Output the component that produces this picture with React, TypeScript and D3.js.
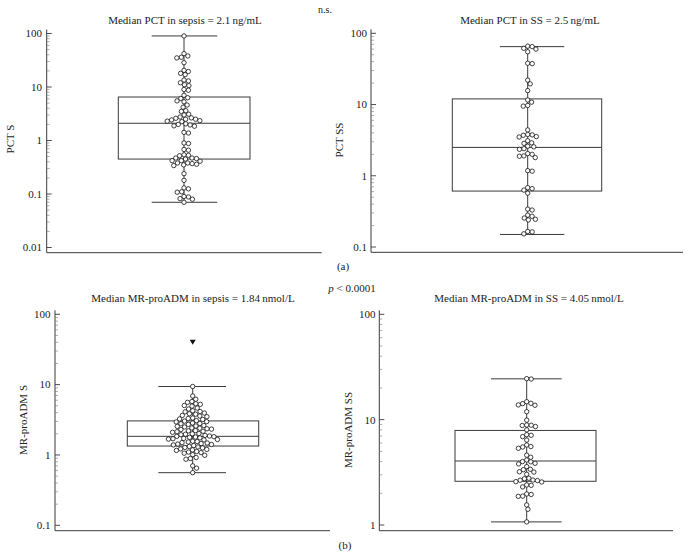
import React from "react";
import * as d3 from "d3";

// ---------- data ----------
const pctSepsis = [90, 42, 38, 36, 35, 28.5, 20.5, 19.5, 18, 17, 13.5, 13, 12, 11, 10.6, 9, 8.7, 7, 6.3, 6.1, 5.5, 5.3, 4.6, 4.2, 3.6, 3.5, 3.1, 3.0, 2.75, 2.65, 2.6, 2.5, 2.5, 2.42, 2.35, 2.3, 2.25, 2.05, 2.0, 1.95, 1.88, 1.85, 1.42, 1.38, 0.9, 0.88, 0.68, 0.66, 0.54, 0.53, 0.52, 0.47, 0.47, 0.46, 0.45, 0.42, 0.42, 0.41, 0.38, 0.38, 0.37, 0.36, 0.35, 0.34, 0.24, 0.18, 0.13, 0.125, 0.11, 0.108, 0.09, 0.088, 0.082, 0.08, 0.07];
const pctSS = [66, 65, 61.5, 60, 55, 38, 37.5, 22, 19.5, 15.7, 11.6, 10.8, 9.7, 9.5, 4.4, 3.8, 3.75, 3.7, 3.55, 3.5, 3.1, 2.9, 2.85, 2.6, 2.55, 2.4, 2.35, 2.05, 2.0, 1.9, 1.88, 1.8, 1.18, 1.16, 0.68, 0.66, 0.63, 0.57, 0.34, 0.33, 0.28, 0.27, 0.255, 0.245, 0.24, 0.165, 0.163, 0.153];
const mrSepsis = [9.4, 6.9, 6.2, 5.75, 5.6, 5.35, 5.25, 5.05, 4.95, 4.65, 4.5, 4.25, 4.15, 4.1, 3.95, 3.85, 3.8, 3.65, 3.58, 3.5, 3.35, 3.3, 3.25, 3.2, 3.08, 3.03, 2.98, 2.95, 2.85, 2.8, 2.78, 2.72, 2.62, 2.58, 2.55, 2.5, 2.42, 2.4, 2.36, 2.33, 2.3, 2.22, 2.2, 2.17, 2.14, 2.1, 2.02, 2.0, 1.97, 1.94, 1.9, 1.86, 1.84, 1.82, 1.8, 1.78, 1.75, 1.72, 1.7, 1.68, 1.66, 1.64, 1.57, 1.55, 1.53, 1.5, 1.48, 1.45, 1.43, 1.41, 1.39, 1.36, 1.32, 1.3, 1.28, 1.26, 1.22, 1.2, 1.18, 1.16, 1.12, 1.1, 1.08, 1.06, 1.01, 0.99, 0.92, 0.89, 0.87, 0.7, 0.65, 0.56];
const mrSS = [24.5, 24.3, 14.8, 14.3, 14.2, 13.8, 13.7, 11.9, 9.9, 8.9, 8.85, 8.8, 8.6, 8.0, 7.2, 7.1, 6.9, 6.4, 5.75, 5.55, 5.5, 5.35, 4.6, 4.4, 4.14, 4.0, 3.98, 3.85, 3.8, 3.58, 3.38, 3.35, 3.2, 3.18, 3.03, 2.78, 2.75, 2.67, 2.66, 2.64, 2.58, 2.56, 2.4, 2.38, 2.3, 1.97, 1.95, 1.88, 1.87, 1.55, 1.41, 1.07];

// box stats: [lower whisker, Q1, median, Q3, upper whisker]
const statsPctSepsis = [0.07, 0.45, 2.1, 6.5, 90];
const statsPctSS = [0.15, 0.61, 2.5, 12, 65];
const statsMrSepsis = [0.56, 1.34, 1.84, 3.05, 9.4];
const statsMrSS = [1.07, 2.6, 4.05, 7.9, 24.4];
const outliersMrSepsis = [40];

const ticksA = [0.01, 0.1, 1, 10, 100];
const ticksB = [0.1, 1, 10, 100];
const ticksC = [0.1, 1, 10, 100];
const ticksD = [1, 10, 100];

const tickLabel = (v: number) => String(v);

const titles = [
  "Median PCT in sepsis = 2.1\u2009ng/mL",
  "Median PCT in SS = 2.5\u2009ng/mL",
  "Median MR-proADM in sepsis = 1.84\u2009nmol/L",
  "Median MR-proADM in SS = 4.05\u2009nmol/L",
];
const yLabels = ["PCT S", "PCT SS", "MR-proADM S", "MR-proADM SS"];

// ---------- layout ----------
const FONT = "'Liberation Serif', 'Times New Roman', serif";
const LINE = "#3a3a3a";

type Layout = {
  axisX: number; xEnd: number; domain: [number, number]; range: [number, number];
  baseY: number; box: [number, number]; cap: [number, number]; cx: number;
  titleX: number; titleY: number; labelX: number; labelY: number; labelEnd: number;
};

const layouts: Layout[] = [
  { axisX: 46.7, xEnd: 321.7, domain: [0.01, 100], range: [247.5, 33.5], baseY: 252.7, box: [118.3, 250], cap: [151.7, 217.3], cx: 184, titleX: 185, titleY: 24, labelX: 14, labelY: 139, labelEnd: 42 },
  { axisX: 371, xEnd: 683, domain: [0.1, 100], range: [247, 33.3], baseY: 252.3, box: [452.3, 601.7], cap: [500, 564.3], cx: 527.7, titleX: 530, titleY: 24, labelX: 343, labelY: 140, labelEnd: 367 },
  { axisX: 55, xEnd: 330, domain: [0.1, 100], range: [525.3, 314.3], baseY: 530.7, box: [127.3, 258.7], cap: [158.3, 226], cx: 192.7, titleX: 193, titleY: 302, labelX: 27, labelY: 420, labelEnd: 50.5 },
  { axisX: 379.3, xEnd: 673, domain: [1, 100], range: [525, 314.3], baseY: 530.7, box: [455, 596], cap: [491, 561.7], cx: 526.7, titleX: 529, titleY: 302, labelX: 352, labelY: 430, labelEnd: 375.5 },
];

const datasets = [pctSepsis, pctSS, mrSepsis, mrSS];
const statsList = [statsPctSepsis, statsPctSS, statsMrSepsis, statsMrSS];
const tickList = [ticksA, ticksB, ticksC, ticksD];
const outlierList: number[][] = [[], [], outliersMrSepsis, []];

const R = 2.2;
const D = 4.5;

function swarm(values: number[], y: (v: number) => number, cx: number) {
  const pts = values.map((v) => ({ v, y: y(v), x: 0 })).sort((a, b) => a.y - b.y);
  const placed: { v: number; y: number; x: number }[] = [];
  for (const p of pts) {
    const cands = [0];
    for (const q of placed) {
      const dy = Math.abs(q.y - p.y);
      if (dy < D) {
        const dx = Math.sqrt(D * D - dy * dy);
        cands.push(q.x + dx, q.x - dx);
      }
    }
    cands.sort((a, b) => Math.abs(a) - Math.abs(b));
    for (const c of cands) {
      if (placed.every((q) => (q.x - c) ** 2 + (q.y - p.y) ** 2 >= D * D - 1e-6)) {
        p.x = c;
        break;
      }
    }
    placed.push(p);
  }
  return placed.map((p) => ({ ...p, x: cx + p.x }));
}

function Panel({ i }: { i: number }) {
  const L = layouts[i];
  const y = d3.scaleLog().domain(L.domain).range(L.range);
  const [lo, q1, med, q3, hi] = statsList[i];
  const majors = tickList[i];
  const minors: number[] = [];
  for (let k = 0; k < majors.length - 1; k++) {
    for (let m = 2; m <= 9; m++) minors.push(majors[k] * m);
  }
  const dots = swarm(datasets[i], (v) => y(v), L.cx);
  const topY = y(L.domain[1]) - 4;
  return (
    <g>
      <line x1={L.axisX} x2={L.axisX} y1={topY} y2={L.baseY} stroke={LINE} strokeWidth={1} />
      <line x1={L.axisX} x2={L.xEnd} y1={L.baseY} y2={L.baseY} stroke={LINE} strokeWidth={1} />
      {majors.map((t) => (
        <g key={"M" + t}>
          <line x1={L.axisX} x2={L.axisX + 5} y1={y(t)} y2={y(t)} stroke={LINE} strokeWidth={0.9} />
          <text x={L.labelEnd} y={y(t)} dy="0.35em" textAnchor="end" fontFamily={FONT} fontSize={11} fill="#222">
            {tickLabel(t)}
          </text>
        </g>
      ))}
      {minors.map((t) => (
        <line key={"m" + t} x1={L.axisX} x2={L.axisX + 3} y1={y(t)} y2={y(t)} stroke="#777" strokeWidth={0.6} />
      ))}
      <text x={L.titleX} y={L.titleY} textAnchor="middle" fontFamily={FONT} fontSize={11} fill="#222">
        {titles[i]}
      </text>
      <text transform={`translate(${L.labelX},${L.labelY}) rotate(-90)`} textAnchor="middle" fontFamily={FONT} fontSize={11} fill="#222">
        {yLabels[i]}
      </text>
      <line x1={L.cx} x2={L.cx} y1={y(hi)} y2={y(lo)} stroke={LINE} strokeWidth={1} />
      <line x1={L.cap[0]} x2={L.cap[1]} y1={y(hi)} y2={y(hi)} stroke={LINE} strokeWidth={1} />
      <line x1={L.cap[0]} x2={L.cap[1]} y1={y(lo)} y2={y(lo)} stroke={LINE} strokeWidth={1} />
      <rect x={L.box[0]} y={y(q3)} width={L.box[1] - L.box[0]} height={y(q1) - y(q3)} fill="none" stroke={LINE} strokeWidth={1} />
      <line x1={L.box[0]} x2={L.box[1]} y1={y(med)} y2={y(med)} stroke={LINE} strokeWidth={1} />
      {dots.map((p, k) => (
        <circle key={k} cx={p.x} cy={p.y} r={R} fill="white" stroke="#111" strokeWidth={0.8} />
      ))}
      {outlierList[i].map((v, k) => {
        const yy = y(v);
        return <path key={"o" + k} d={`M${L.cx - 3},${yy - 2.5}L${L.cx + 3},${yy - 2.5}L${L.cx},${yy + 2.5}Z`} fill="#111" />;
      })}
    </g>
  );
}

export default function App() {
  return (
    <svg width={690} height={558} style={{ display: "block", position: "absolute", left: 0, top: 0, background: "white" }}>
      <rect width={690} height={558} fill="white" />
      {[0, 1, 2, 3].map((i) => (
        <Panel key={i} i={i} />
      ))}
      <text x={325} y={13} textAnchor="middle" fontFamily={FONT} fontSize={10} fill="#222">n.s.</text>
      <text x={343} y={270} textAnchor="middle" fontFamily={FONT} fontSize={11} fill="#222">(a)</text>
      <text x={352} y={292} textAnchor="middle" fontFamily={FONT} fontSize={11} fill="#222">
        <tspan fontStyle="italic">p</tspan> &lt; 0.0001
      </text>
      <text x={345} y={549} textAnchor="middle" fontFamily={FONT} fontSize={11} fill="#222">(b)</text>
    </svg>
  );
}
